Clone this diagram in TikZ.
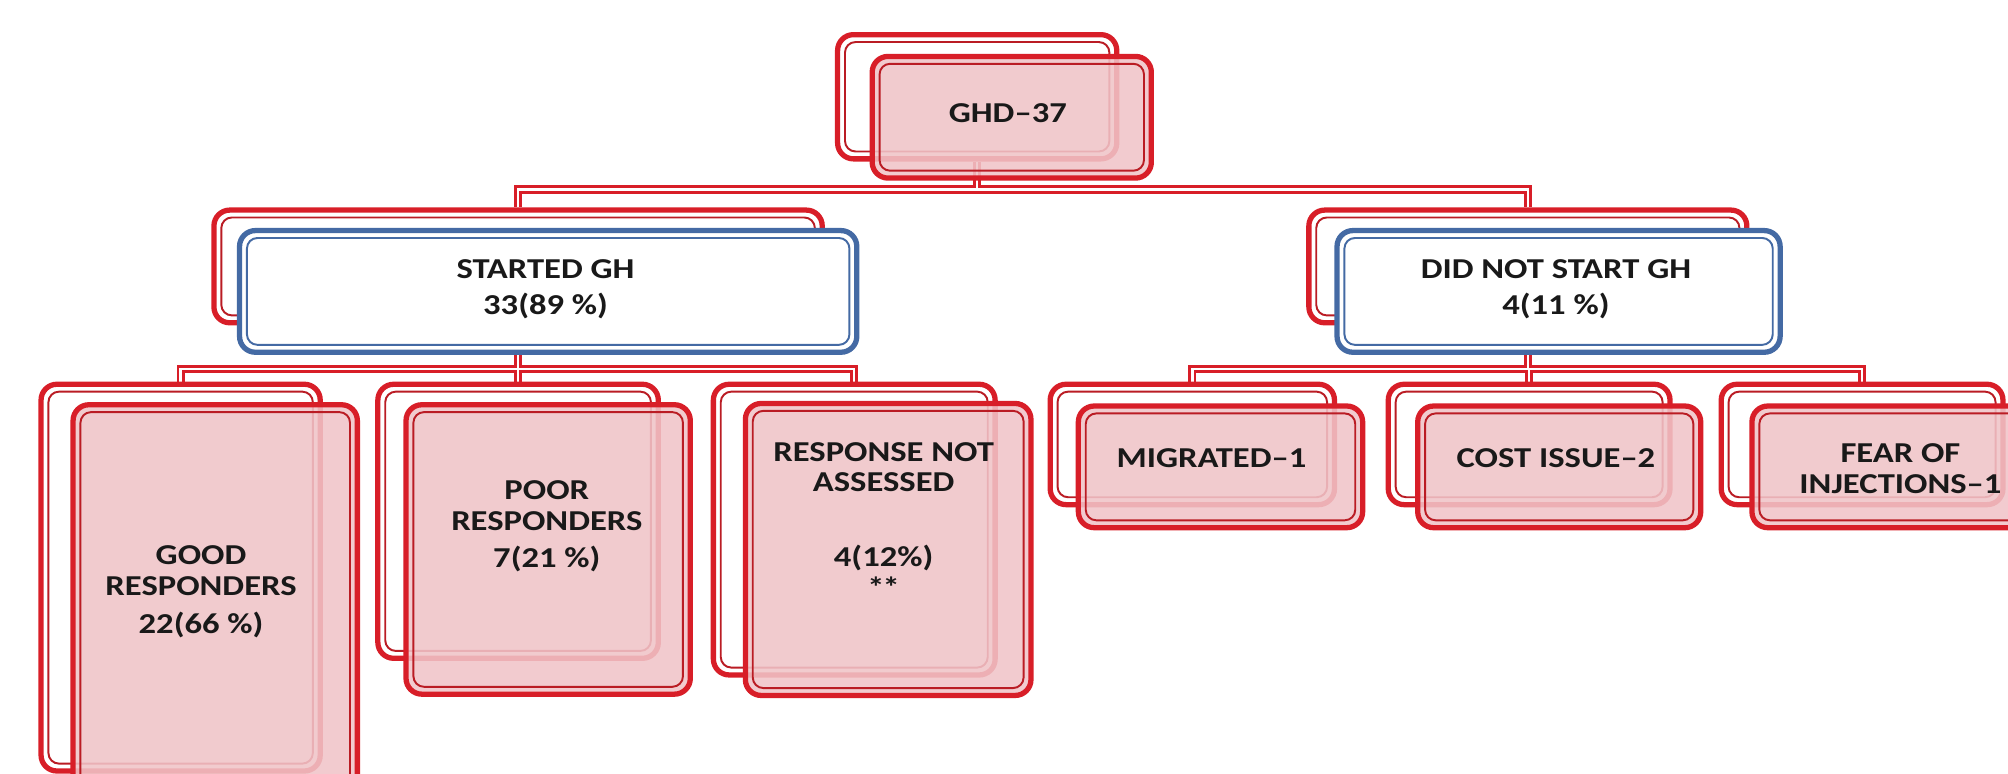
\documentclass[tikz,border=0pt]{standalone}
\usepackage{fontspec}
\setmainfont{Carlito}[FakeStretch=1.2]
\usetikzlibrary{backgrounds}
\definecolor{boxred}{RGB}{216,30,40}
\definecolor{innerred}{RGB}{186,28,36}
\definecolor{boxpink}{RGB}{240,196,200}
\definecolor{boxblue}{RGB}{68,106,164}
\newdimen\pxu
\pxu=0.012806cm
\tikzset{
  boxsize/.style 2 args={minimum width=#1*\pxu, minimum height=#2*\pxu},
  boxbase/.style={rectangle, rounded corners=4.5pt, line width=1.5pt,
    inner sep=0pt, anchor=north west},
  innerframe/.style={path picture={\draw[#1, line width=0.55pt, rounded corners=3pt]
      ([shift={(2.1pt,2.1pt)}]path picture bounding box.south west) rectangle
      ([shift={(-2.1pt,-2.1pt)}]path picture bounding box.north east);}},
  backbox/.style={boxbase, draw=boxred, fill=white, innerframe=innerred},
  pinkbox/.style={boxbase, draw=boxred, fill=boxpink, fill opacity=0.88,
    innerframe=innerred},
  bluebox/.style={boxbase, draw=boxblue, fill=white, innerframe=boxblue},
  txt/.style={font=\bfseries\fontsize{8.2}{8.8}\selectfont, align=center,
    text=black!90, inner sep=0pt},
  wireout/.style={draw=boxred, line width=2.3pt},
  wirein/.style={draw=white, line width=0.7pt},
}
% connector paths, stroked twice: red body, then white core
\newcommand\wires[1]{%
  \draw[#1] (rootb.south) -- (bus1);
  \draw[#1] (startb.north) |- (bus1) -| (dnsb.north);
  \draw[#1] (startb.south) -- (bus2);
  \draw[#1] (goodb.north) |- (bus2) -| (rnab.north);
  \draw[#1] (poorb.north) -- (poorb.north |- bus2);
  \draw[#1] (dnsb.south) -- (bus3);
  \draw[#1] (migb.north) |- (bus3) -| (fearb.north);
  \draw[#1] (costb.north) -- (costb.north |- bus3);
}
\begin{document}
\begin{tikzpicture}[x=\pxu, y=-\pxu]
\useasboundingbox (0,0) rectangle (1568,604);

% top level
\node[backbox, boxsize={218}{97}] (rootb) at (652,25) {};
\node[pinkbox, boxsize={218}{95}] (rootf) at (679,42) {};
\node[txt] (roott) at (787,88) {GHD--37};

% second level
\node[backbox, boxsize={475}{88}] (startb) at (165,162) {};
\node[bluebox, boxsize={482}{95}] (startf) at (185,178) {};
\node[txt] (startt) at (426,226) {STARTED GH\\[1.6pt]33(89 \%)};

\node[backbox, boxsize={342}{88}] (dnsb) at (1020,162) {};
\node[bluebox, boxsize={346}{95}] (dnsf) at (1042,178) {};
\node[txt] (dnst) at (1215,226) {DID NOT START GH\\[1.6pt]4(11 \%)};

% third level, left branch
\node[backbox, boxsize={218}{302}] (goodb) at (30,298) {};
\node[pinkbox, boxsize={222}{310}] (goodf) at (55,314) {};
\node[txt] (goodt) at (157,462) {GOOD\\RESPONDERS\\[1.8pt]22(66 \%)};

\node[backbox, boxsize={219}{214}] (poorb) at (293,298) {};
\node[pinkbox, boxsize={222}{226}] (poorf) at (315,314) {};
\node[txt] (poort) at (427,411) {POOR\\RESPONDERS\\[1.8pt]7(21 \%)};

\node[backbox, boxsize={220}{227}] (rnab) at (555,298) {};
\node[pinkbox, boxsize={223}{228}] (rnaf) at (580,313) {};
\node[txt] (rnat) at (690,406) {RESPONSE NOT\\ASSESSED\\[12.3pt]4(12\%)\\[0.2pt]*\kern-0.6pt*};

% third level, right branch
\node[backbox, boxsize={222}{94}] (migb) at (818,298) {};
\node[pinkbox, boxsize={222}{95}] (migf) at (840,315) {};
\node[txt] (migt) at (946,358) {MIGRATED--1};

\node[backbox, boxsize={220}{94}] (costb) at (1082,298) {};
\node[pinkbox, boxsize={221}{95}] (costf) at (1105,315) {};
\node[txt] (costt) at (1215,358) {COST ISSUE--2};

\node[backbox, boxsize={220}{94}] (fearb) at (1342,298) {};
\node[pinkbox, boxsize={222}{95}] (fearf) at (1366,315) {};
\node[txt] (feart) at (1484,366) {FEAR OF\\INJECTIONS--1};

% bus junctions
\coordinate (bus1) at (rootb.south |- 0,148);
\coordinate (bus2) at (startb.south |- 0,288);
\coordinate (bus3) at (dnsb.south |- 0,288);

\begin{pgfonlayer}{background}
  \wires{wireout}
  \wires{wirein}
\end{pgfonlayer}
\end{tikzpicture}
\end{document}
